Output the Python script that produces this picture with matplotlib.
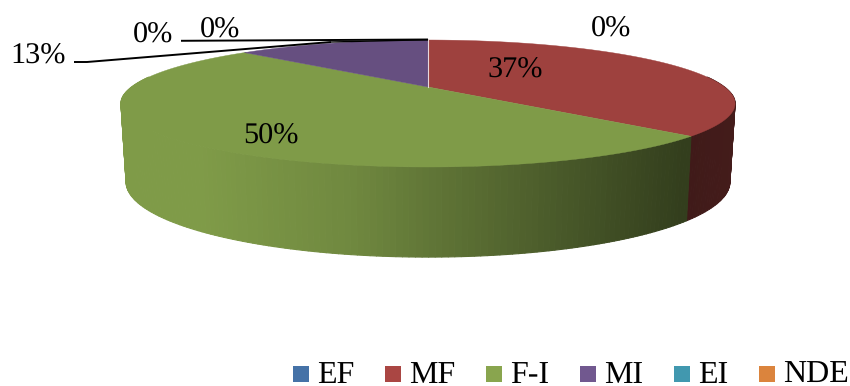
# 3D pie of the classes, drawn by hand since matplotlib has no perspective pie
import numpy as np
import matplotlib
matplotlib.use('Agg')
import matplotlib.pyplot as plt
from matplotlib.collections import PolyCollection
from matplotlib.patches import Rectangle

plt.rcParams['font.family'] = ['Liberation Serif', 'DejaVu Serif']
plt.rcParams['text.hinting'] = 'no_hinting'

categories = ['EF', 'MF', 'F-I', 'MI', 'EI', 'NDE']
values = [0, 37, 50, 13, 0, 0]
legend_colors = ['#4572A7', '#AA4643', '#89A54E', '#71588F', '#4198AF', '#DB843D']
top_colors = ['#406A9C', '#9E413E', '#7F9B48', '#664F80', '#3C8DA3', '#CC7A38']

# label text, x, baseline y
labels = [('0%', 611, 37), ('37%', 515, 78), ('50%', 271, 144),
          ('13%', 38, 64), ('0%', 153, 42.5), ('0%', 220, 37.5)]

# legend layout: left edge of each swatch and of its text
swatch_x = [293, 385, 486, 580, 674, 759]
name_x = [317, 409, 510, 604, 698, 783]

# pie geometry in pixels, k is the perspective strength
cx = 428
k = 0.26
top_a, top_b, top_y = 296.5, 59.2, 87
bot_a, bot_b, bot_y = 291.5, 70, 162.5

shade_x = [200, 350, 430, 600, 685, 735]
shade_f = [1.0, 0.88, 0.76, 0.52, 0.40, 0.43]


def project(theta, a, b, y0):
    # theta is clockwise from 12 o'clock, the back of the pie is further away
    u = np.sin(theta)
    v = np.cos(theta)
    d = 1 + k * v
    return cx + a * u / d, y0 - b * v / d


fig = plt.figure(figsize=(8.5, 3.86), dpi=100)
ax = fig.add_axes([0, 0, 1, 1])
ax.set_xlim(0, 850)
ax.set_ylim(386, 0)
ax.axis('off')

edges = np.radians(np.cumsum([0] + values) / sum(values) * 360)

# outer wall, front half only
polys = []
cols = []
for i in range(len(values)):
    lo = max(edges[i], np.radians(80))
    hi = min(edges[i + 1], np.radians(280))
    if hi <= lo:
        continue
    t = np.linspace(lo, hi, int((hi - lo) * 60) + 2)
    xt, yt = project(t, top_a, top_b, top_y)
    xb, yb = project(t, bot_a, bot_b, bot_y)
    base = np.array(matplotlib.colors.to_rgb(top_colors[i]))
    for j in range(len(t) - 1):
        polys.append([(xt[j], yt[j]), (xt[j + 1], yt[j + 1]),
                      (xb[j + 1], yb[j + 1]), (xb[j], yb[j])])
        cols.append(base * np.interp((xt[j] + xt[j + 1]) / 2, shade_x, shade_f))
ax.add_collection(PolyCollection(polys, facecolors=cols, edgecolors=cols, linewidths=0.8))

# top faces
for i in range(len(values)):
    if values[i] == 0:
        continue
    t = np.linspace(edges[i], edges[i + 1], 200)
    x, y = project(t, top_a, top_b, top_y)
    ax.fill(np.r_[cx, x], np.r_[top_y, y], color=top_colors[i], lw=0.3)

# light seam between MI and MF at the back
xs, ys = project(np.array([0.0]), top_a, top_b, top_y)
ax.plot([cx, xs[0]], [top_y, ys[0]], color='#E8D8DC', lw=0.8)

# leader lines
ax.plot([74, 87, 331], [62, 62, 42], color='black', lw=1.4, solid_capstyle='butt')
ax.plot([331, 428], [42, 39.7], color='black', lw=1.0, solid_capstyle='butt')
ax.plot([181, 428], [40.8, 39.5], color='black', lw=1.4, solid_capstyle='butt')

for text, x, y in labels:
    ax.text(x, y, text, fontsize=21.8, ha='center', va='baseline', color='black')

# legend row
for name, color, sx, nx in zip(categories, legend_colors, swatch_x, name_x):
    ax.add_patch(Rectangle((sx, 366), 16, 16, facecolor=color, edgecolor='none'))
    ax.text(nx, 383.3, name, fontsize=23, ha='left', va='baseline', color='black')

fig.savefig('out.png', dpi=100, facecolor='white')
